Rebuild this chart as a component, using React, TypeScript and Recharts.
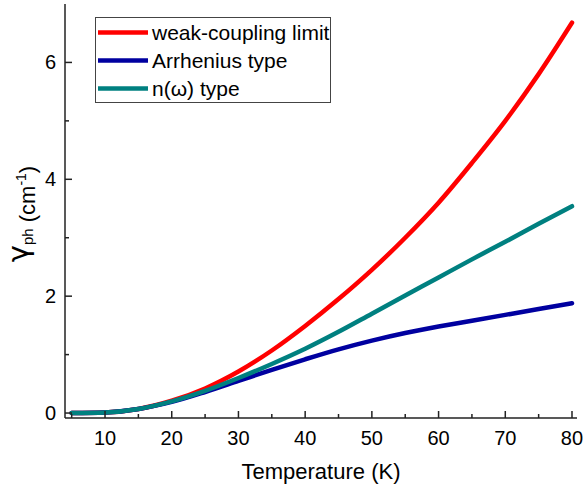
import React from "react";
import {
  LineChart,
  Line,
  XAxis,
  YAxis,
  Legend,
} from "recharts";

// temperature grid (K)
const temps = [5, 10, 15, 20, 25, 30, 35, 40, 45, 50, 55, 60, 65, 70, 75, 80];
// gamma_ph (cm^-1)
const weakCoupling = [0, 0.01, 0.07, 0.21, 0.42, 0.71, 1.07, 1.49, 1.95, 2.45, 3.0, 3.6, 4.28, 5.0, 5.8, 6.68];
const arrhenius = [0, 0.01, 0.07, 0.19, 0.36, 0.55, 0.74, 0.92, 1.09, 1.24, 1.37, 1.48, 1.58, 1.68, 1.78, 1.88];
const nOmega = [0, 0.01, 0.07, 0.2, 0.38, 0.6, 0.84, 1.1, 1.39, 1.7, 2.01, 2.32, 2.63, 2.93, 3.24, 3.54];

const seriesNames = ["weak-coupling limit", "Arrhenius type", "n(ω) type"];

const xTicks = [5, 10, 15, 20, 25, 30, 35, 40, 45, 50, 55, 60, 65, 70, 75, 80];
const xLabels = [10, 20, 30, 40, 50, 60, 70, 80];
const yTicks = [0, 1, 2, 3, 4, 5, 6];
const yLabels = [0, 2, 4, 6];

const data = temps.map((t, i) => ({
  T: t,
  weak: weakCoupling[i],
  arr: arrhenius[i],
  nw: nOmega[i],
}));

const FONT = '"Liberation Sans", Arial, sans-serif';
const AXIS = "#222";

const BottomTick = (props: any) => {
  const { x, y, payload } = props;
  const major = xLabels.includes(payload.value);
  return (
    <g>
      <line x1={x} x2={x} y1={y} y2={y - (major ? 7 : 4)} stroke={AXIS} strokeWidth={1.5} />
      {major && (
        <text x={x} y={y + 27} textAnchor="middle" fontSize={20} fontFamily={FONT} fill="#000">
          {payload.value}
        </text>
      )}
    </g>
  );
};

const LeftTick = (props: any) => {
  const { x, y, payload } = props;
  const major = yLabels.includes(payload.value);
  return (
    <g>
      <line x1={x} x2={x + (major ? 7 : 4)} y1={y} y2={y} stroke={AXIS} strokeWidth={1.5} />
      {major && (
        <text x={x - 9} y={y + 7} textAnchor="end" fontSize={20} fontFamily={FONT} fill="#000">
          {payload.value}
        </text>
      )}
    </g>
  );
};

const RightTick = (props: any) => {
  const { x, y, payload } = props;
  const major = yLabels.includes(payload.value);
  return <line x1={x} x2={x - (major ? 7 : 4)} y1={y} y2={y} stroke={AXIS} strokeWidth={1.5} />;
};

const renderLegend = (props: any) => {
  const payload = [...(props.payload || [])].sort(
    (a: any, b: any) => seriesNames.indexOf(a.value) - seriesNames.indexOf(b.value)
  );
  return (
    <div
      style={{
        width: 236,
        height: 86,
        border: "1px solid #444",
        boxSizing: "border-box",
        background: "#fff",
      }}
    >
      <svg width={234} height={84} style={{ display: "block" }}>
        {payload.map((entry: any, i: number) => {
          const cy = 14.5 + i * 28;
          return (
            <g key={entry.value}>
              <line x1={2} x2={52} y1={cy} y2={cy} stroke={entry.color} strokeWidth={4.5} />
              <text x={56} y={cy + 7} fontSize={21} fontFamily={FONT} fill="#000">
                {entry.value}
              </text>
            </g>
          );
        })}
      </svg>
    </div>
  );
};

const YTitle = () => (
  <text
    x={35}
    y={214}
    transform="rotate(-90 35 214)"
    textAnchor="middle"
    fontFamily={FONT}
    fill="#000"
  >
    <tspan fontSize={29} dy={-7} fontFamily='"DejaVu Sans", sans-serif'>γ</tspan>
    <tspan fontSize={15} dy={5}>ph</tspan>
    <tspan fontSize={22} dy={2}> (cm</tspan>
    <tspan fontSize={14} dy={-9}>-1</tspan>
    <tspan fontSize={22} dy={9}>)</tspan>
  </text>
);

export default function App() {
  return (
    <div style={{ position: "absolute", left: 0, top: 0, background: "#fff" }}>
      <LineChart
        width={584}
        height={494}
        data={data}
        margin={{ top: 4, right: 7, left: 0, bottom: 0 }}
      >
        <XAxis
          xAxisId="bottom"
          dataKey="T"
          type="number"
          domain={[4, 80.75]}
          ticks={xTicks}
          interval={0}
          height={76}
          tickSize={0}
          tickMargin={0}
          tickLine={false}
          tick={<BottomTick />}
          axisLine={{ stroke: AXIS, strokeWidth: 1.5 }}
          allowDataOverflow
          label={{
            value: "Temperature (K)",
            position: "insideBottom",
            offset: 15,
            fontSize: 22,
            fontFamily: FONT,
            fill: "#000",
          }}
        />
        <XAxis
          xAxisId="top"
          orientation="top"
          dataKey="T"
          type="number"
          domain={[4, 80.75]}
          height={0}
          tick={false}
          tickLine={false}
          axisLine={{ stroke: AXIS, strokeWidth: 1.5 }}
          allowDataOverflow
        />
        <YAxis
          yAxisId="left"
          type="number"
          domain={[-0.085, 7]}
          ticks={yTicks}
          interval={0}
          width={65}
          tickSize={0}
          tickMargin={0}
          tickLine={false}
          tick={<LeftTick />}
          axisLine={{ stroke: AXIS, strokeWidth: 1.5 }}
          allowDataOverflow
          label={{ content: () => <YTitle /> }}
        />
        <YAxis
          yAxisId="right"
          orientation="right"
          type="number"
          domain={[-0.085, 7]}
          ticks={yTicks}
          interval={0}
          width={0}
          tickSize={0}
          tickMargin={0}
          tickLine={false}
          tick={<RightTick />}
          axisLine={{ stroke: AXIS, strokeWidth: 1.5 }}
          allowDataOverflow
        />
        <Legend
          layout="vertical"
          align="center"
          verticalAlign="middle"
          content={renderLegend}
          wrapperStyle={{ left: 95, top: 17, width: 236, height: 86 }}
        />
        <Line
          xAxisId="bottom"
          yAxisId="left"
          type="monotone"
          dataKey="weak"
          name={seriesNames[0]}
          stroke="#ff0000"
          strokeWidth={4.5}
          strokeLinecap="round"
          dot={false}
          isAnimationActive={false}
        />
        <Line
          xAxisId="bottom"
          yAxisId="left"
          type="monotone"
          dataKey="arr"
          name={seriesNames[1]}
          stroke="#0000a0"
          strokeWidth={4.5}
          strokeLinecap="round"
          dot={false}
          isAnimationActive={false}
        />
        <Line
          xAxisId="bottom"
          yAxisId="left"
          type="monotone"
          dataKey="nw"
          name={seriesNames[2]}
          stroke="#008080"
          strokeWidth={4.5}
          strokeLinecap="round"
          dot={false}
          isAnimationActive={false}
        />
      </LineChart>
    </div>
  );
}
